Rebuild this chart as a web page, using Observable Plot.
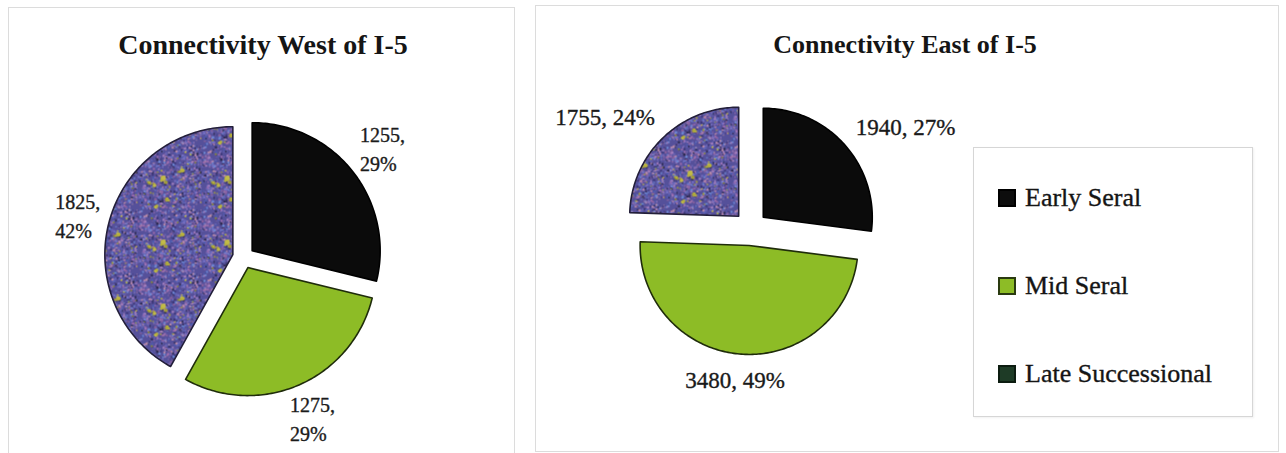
<!DOCTYPE html>
<html><head><meta charset="utf-8">
<script src="https://cdn.jsdelivr.net/npm/d3@7"></script>
<script src="https://cdn.jsdelivr.net/npm/@observablehq/plot@0.6"></script>
<style>
html,body{margin:0;padding:0;background:#fff;width:1286px;height:453px;overflow:hidden;position:relative;font-family:"Liberation Serif","Times New Roman",serif;}
.panel{position:absolute;border:1px solid #dcdcdc;box-sizing:border-box;}
.title{position:absolute;font-weight:bold;text-align:center;color:#151515;white-space:nowrap;line-height:1;}
.plot{position:absolute;}
.legend{position:absolute;border:1px solid #d6d6d6;box-sizing:border-box;background:#fff;box-shadow:1px 1px 2px rgba(0,0,0,0.06);}
.item{position:absolute;display:flex;align-items:center;font-size:26px;color:#151515;white-space:nowrap;line-height:1;-webkit-text-stroke:0.35px #151515;}
.sw{width:18px;height:18px;box-sizing:border-box;margin-right:9px;}
</style></head><body>
<script>
// ---- data ----
const categories = ["Early Seral", "Mid Seral", "Late Successional"];
const westValues = [1255, 1275, 1825];
const westPercents = [29, 29, 42];
const eastValues = [1940, 3480, 1755];
const eastPercents = [27, 49, 24];
const titles = ["Connectivity West of I-5", "Connectivity East of I-5"];

// ---- styles ----
const sliceFill = ["#0b0b0b", "#8dbc26", null]; // null -> textured pattern
const sliceStroke = ["#000000", "#1f2c0b", "#231f3a"];
const legendFill = ["#0d0d0d", "#8dbc26", "#1e3b26"];
const legendStroke = ["#000", "#2a3a10", "#0c1c10"];

// decorative texture for the "Late Successional" slices
function patternMark(id) {
  return () => {
    const S = 64;
    const defs = d3.create("svg:defs");
    const p = defs.append("pattern").attr("id", id)
      .attr("patternUnits", "userSpaceOnUse").attr("width", S).attr("height", S);
    p.append("rect").attr("width", S).attr("height", S).attr("fill", "#55509a");
    let s = 424242;
    const rnd = () => (s = (s * 16807) % 2147483647) / 2147483647;
    const cols = ["#3b3678", "#7671c6", "#9a6aad", "#6d88d4", "#b98aa8", "#2d2a52", "#4e5bb0", "#88609c", "#6a66b8", "#a37fbf"];
    for (let i = 0; i < 900; i++) {
      p.append("rect").attr("x", rnd() * S).attr("y", rnd() * S)
        .attr("width", 0.8 + rnd() * 1.8).attr("height", 0.8 + rnd() * 1.8)
        .attr("fill", cols[Math.floor(rnd() * cols.length)]);
    }
    const ycols = ["#b8b23c", "#a29e38", "#8c8a30", "#c2bb48"];
    for (let b = 0; b < 6; b++) {
      const bx = rnd() * S, by = rnd() * S, big = b < 2 ? 3 : 1.6;
      for (let k = 0; k < 5; k++) {
        p.append("circle").attr("cx", bx + (rnd() - 0.5) * big * 2).attr("cy", by + (rnd() - 0.5) * big * 2)
          .attr("r", 0.8 + rnd() * big * 0.7).attr("fill", ycols[Math.floor(rnd() * 4)]);
      }
    }
    for (let i = 0; i < 40; i++) {
      p.append("rect").attr("x", rnd() * S).attr("y", rnd() * S)
        .attr("width", 1 + rnd()).attr("height", 1 + rnd())
        .attr("fill", ycols[Math.floor(rnd() * 4)]);
    }
    return defs.node();
  };
}

function textWidthEm(str) {
  let w = 0;
  for (const ch of str) w += /[0-9]/.test(ch) ? 0.5 : ch === "%" ? 0.833 : (ch === "," || ch === " ") ? 0.25 : 0.5;
  return w;
}

function pieChart(cfg) {
  const {values, percents, twoLine, rPx, explodePx, cx, cy, W, H, fontSize, lineHeight, gapPx, patId} = cfg;
  const arcs = d3.pie().sort(null).value(d => d)(values);
  const e = explodePx / rPx;
  const marks = [patternMark(patId)];
  const labels = [];
  arcs.forEach((a, i) => {
    const mid = (a.startAngle + a.endAngle) / 2;
    const dx = Math.sin(mid), dy = Math.cos(mid);
    const ox = e * dx, oy = e * dy;
    const pts = [{x: ox, y: oy}];
    const n = Math.ceil((a.endAngle - a.startAngle) / (Math.PI / 180));
    for (let k = 0; k <= n; k++) {
      const t = a.startAngle + (a.endAngle - a.startAngle) * k / n;
      pts.push({x: ox + Math.sin(t), y: oy + Math.cos(t)});
    }
    marks.push(Plot.line(pts, {
      x: "x", y: "y", curve: "linear-closed",
      fill: sliceFill[i] || `url(#${patId})`, stroke: sliceStroke[i], strokeWidth: 1.6
    }));
    const label = twoLine ? `${values[i]},\n${percents[i]}%` : `${values[i]}, ${percents[i]}%`;
    const lines = label.split("\n");
    const wU = d3.max(lines, l => textWidthEm(l)) * fontSize / rPx;
    const hU = ((lines.length - 1) * lineHeight + 1) * fontSize / rPx;
    const m = Math.max(Math.abs(dx), Math.abs(dy));
    const ux = dx / m, uy = dy / m;
    const g = gapPx / rPx;
    const px = (1 + e + g) * dx + ux * wU / 2;
    const py = (1 + e + g) * dy + uy * hU / 2;
    labels.push({x: px - wU / 2, y: py, label});
  });
  marks.push(Plot.text(labels, {
    x: "x", y: "y", text: "label", textAnchor: "start", lineAnchor: "middle",
    fontSize, lineHeight, fill: "#1a1a1a", stroke: "#1a1a1a", strokeWidth: 0.35
  }));
  return Plot.plot({
    width: W, height: H, margin: 0,
    x: {domain: [-cx / rPx, (W - cx) / rPx], axis: null},
    y: {domain: [-(H - cy) / rPx, cy / rPx], axis: null},
    style: {fontFamily: '"Liberation Serif","Times New Roman",serif', background: "transparent", overflow: "visible"},
    marks
  });
}

function el(tag, cls, css, html) {
  const d = document.createElement(tag);
  if (cls) d.className = cls;
  Object.assign(d.style, css);
  if (html != null) d.textContent = html;
  document.body.appendChild(d);
  return d;
}

// panels
el("div", "panel", {left: "8px", top: "7px", width: "507px", height: "470px"});
el("div", "panel", {left: "535px", top: "5px", width: "744px", height: "447px"});

// west pie
const p1 = pieChart({values: westValues, percents: westPercents, twoLine: true,
  rPx: 128, explodePx: 11, cx: 234, cy: 246, W: 504, H: 445,
  fontSize: 20, lineHeight: 1.45, gapPx: 9, patId: "lateW"});
p1.classList.add("plot"); p1.style.left = "9px"; p1.style.top = "11px";
document.body.appendChild(p1);

// east pie
const p2 = pieChart({values: eastValues, percents: eastPercents, twoLine: false,
  rPx: 109, explodePx: 17, cx: 214, cy: 222, W: 430, H: 444,
  fontSize: 23, lineHeight: 1.2, gapPx: 14, patId: "lateE"});
p2.classList.add("plot"); p2.style.left = "536px"; p2.style.top = "6px";
document.body.appendChild(p2);

// titles
el("div", "title", {left: "63px", width: "400px", top: "31px", fontSize: "28px"}, titles[0]);
el("div", "title", {left: "705px", width: "400px", top: "32px", fontSize: "26px"}, titles[1]);

// legend
const lg = el("div", "legend", {left: "973px", top: "147px", width: "280px", height: "270px"});
[50, 138, 226].forEach((yc, i) => {
  const it = document.createElement("div");
  it.className = "item";
  Object.assign(it.style, {left: "24px", top: (yc - 14) + "px", height: "28px"});
  const sw = document.createElement("div");
  sw.className = "sw";
  Object.assign(sw.style, {background: legendFill[i], border: `2px solid ${legendStroke[i]}`});
  it.appendChild(sw);
  const t = document.createElement("span");
  t.textContent = categories[i];
  it.appendChild(t);
  lg.appendChild(it);
});
</script>
</body></html>
